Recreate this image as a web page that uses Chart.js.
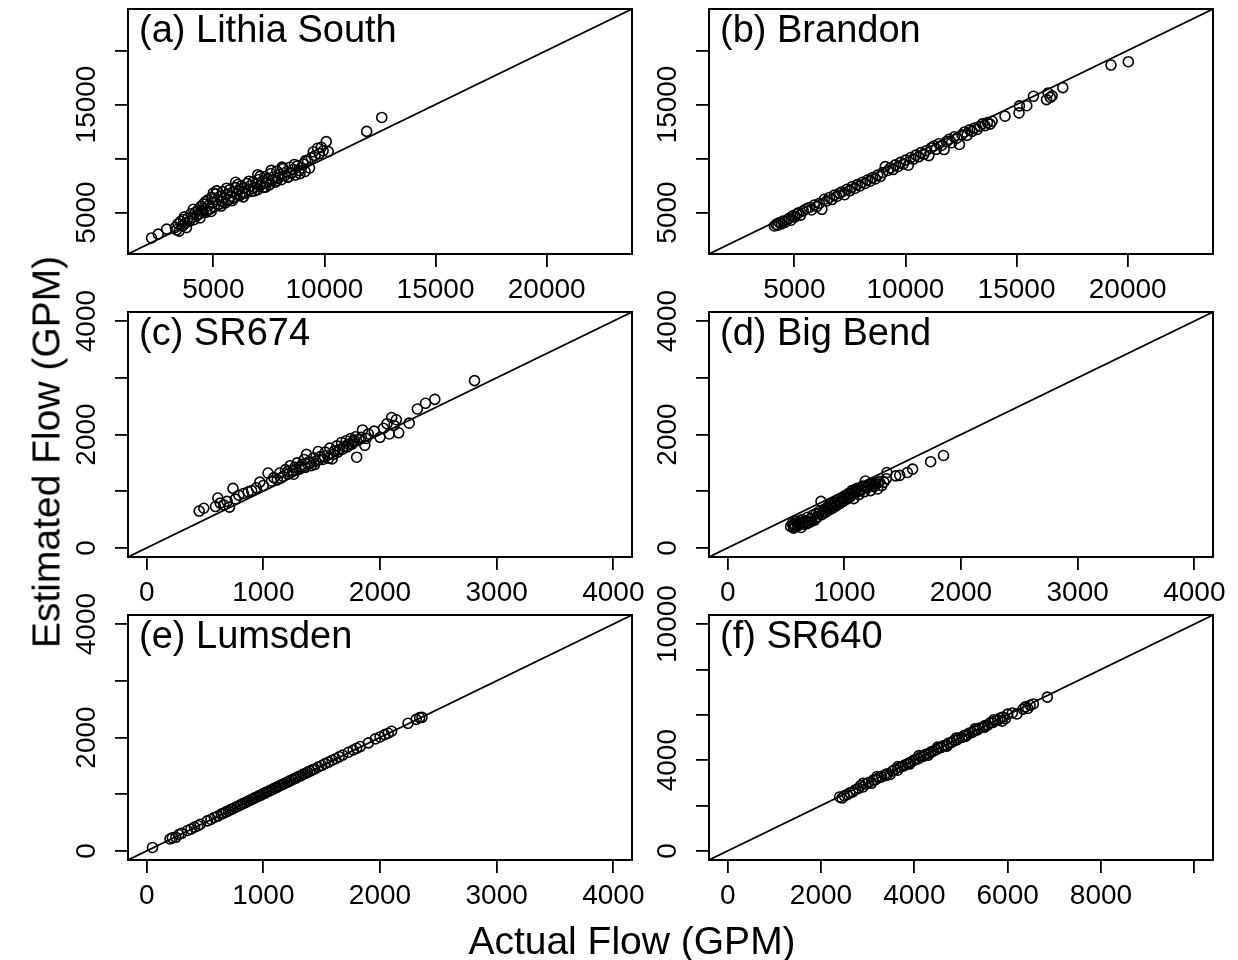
<!DOCTYPE html>
<html>
<head>
<meta charset="utf-8">
<script src="https://cdn.jsdelivr.net/npm/chart.js@4.4.1/dist/chart.umd.min.js"></script>
<style>
  html, body { margin: 0; padding: 0; background: #fff; }
  #fig { position: relative; width: 1238px; height: 960px; overflow: hidden; font-family: 'Liberation Sans', Arial, sans-serif; }
  #fig canvas { position: absolute; }
  .axis-title { position: absolute; font-size: 39px; line-height: 1; color: #000; white-space: nowrap; }
  #xTitle { left: 632px; top: 940px; transform: translate(-50%, -50%); }
  #yTitle { left: 46px; top: 452px; transform: translate(-50%, -50%) rotate(-90deg); }
</style>
</head>
<body>
<div id="fig">
  <canvas id="panelA"></canvas>
  <canvas id="panelB"></canvas>
  <canvas id="panelC"></canvas>
  <canvas id="panelD"></canvas>
  <canvas id="panelE"></canvas>
  <canvas id="panelF"></canvas>
  <div class="axis-title" id="xTitle">Actual Flow (GPM)</div>
  <div class="axis-title" id="yTitle">Estimated Flow (GPM)</div>
</div>
<script>
// Site names (panel labels)
const panelNames = ['(a) Lithia South', '(b) Brandon', '(c) SR674', '(d) Big Bend', '(e) Lumsden', '(f) SR640'];

// Tick positions and which ones carry a label
const ticksBig = [5000, 10000, 15000, 20000];
const xLabelsBig = [5000, 10000, 15000, 20000];
const yLabelsBig = [5000, 15000];
const ticks4k = [0, 1000, 2000, 3000, 4000];
const xLabels4k = [0, 1000, 2000, 3000, 4000];
const yLabels4k = [0, 2000, 4000];
const ticks10k = [0, 2000, 4000, 6000, 8000, 10000];
const xLabels10k = [0, 2000, 4000, 6000, 8000];
const yLabels10k = [0, 4000, 10000];

// Axis ranges (same on x and y, so the 1:1 line runs corner to corner)
const rangeBig = [1160, 23840];
const range4k = [-160, 4160];
const range10k = [-400, 10400];

// (a) Lithia South
const lithiaActual = [2220,2520,2900,3350,3290,3410,3460,3530,3610,3660,3740,3790,3850,3930,3990,4060,4120,4190,4250,4310,4370,4440,4490,4560,4620,4680,4740,4790,4860,4930,4980,5040,5110,5170,5220,5290,5360,5420,5470,5540,5610,5680,5730,5790,5860,5930,5990,6060,6120,6190,6260,6320,6390,6450,6520,6590,6650,6720,6790,6850,6920,6990,7050,7120,7190,7250,7320,7390,7450,7520,7590,7660,7720,7790,7860,7930,7990,8060,8130,8210,8290,8360,8440,8520,8600,8690,8780,8870,8960,9050,9130,9240,9330,9410,9500,9580,9690,9770,9860,9940,10080,10170,11900,12580,3700,4100,4400,4650,4900,5150,5350,5600,5850,6100,6350,6600,6850,7100,7350,7600,7850,8100,8350,8650,8900,9150,5000,6000,7000];
const lithiaEstimated = [2640,3000,3460,3400,3620,3950,3280,4180,3760,4350,4020,3600,4470,4200,4880,4560,4330,4990,4720,5240,4890,5560,5120,5800,5390,5040,6150,5660,5330,6400,5900,5560,6720,6180,5750,6490,6030,6930,6320,5880,6660,6190,7100,6500,6880,6340,7300,6710,7050,6560,7480,6900,7250,6770,7690,7110,7430,6960,7850,7320,7660,7120,8060,7520,7870,7330,8330,7730,8050,7560,8610,7990,8310,7800,8840,8190,8550,8040,9060,8420,8770,8240,9190,8650,8980,8470,9320,8880,9150,9490,8800,9770,9120,10060,10620,10280,10950,10450,11040,10720,11560,10640,12510,13800,4600,5300,4500,6000,5100,7000,5600,7250,6100,7600,6450,7900,7000,8350,7350,8900,7950,9200,8300,9450,8600,9800,6800,7800,8500];

// (b) Brandon
const brandonActual = [4100,4180,4260,4330,4420,4500,4590,4680,4760,4850,4930,5020,5100,5190,5280,5400,5530,5670,5780,5900,6010,6130,6240,6350,6460,6580,6690,6800,6910,7030,7140,7260,7370,7490,7600,7720,7830,7950,8060,8180,8290,8410,8520,8640,8750,8870,8980,9090,9210,9320,9440,9550,9670,9780,9900,10010,10130,10240,10360,10470,10590,10700,10820,10930,11050,11160,11280,11390,11510,11620,11740,11850,11970,12080,12200,12310,12430,12540,12660,12770,12890,13000,13120,13230,13350,13460,13580,13690,13810,13900,14480,15110,15130,15460,15760,16350,16420,16600,16520,17080,19250,20030];
const brandonEstimated = [3750,3900,3820,4060,3950,4210,4100,4330,4460,4290,4690,4580,4860,4970,4760,5150,5330,5470,5240,5690,5560,5850,5300,6230,6080,6390,6200,6610,6490,6780,6920,6650,7150,7010,7380,7230,7580,7460,7800,7690,8010,7900,8230,8110,8470,8340,8700,9250,8890,9130,8980,9410,9260,9640,9490,9850,9380,10090,9950,10310,10160,10540,10380,10720,10270,10980,11160,10850,11370,11210,10830,11560,11780,11460,12010,11880,11300,12200,12460,12140,12650,12520,12830,12690,12990,13210,13040,13330,13180,13450,13920,14220,14870,14890,15760,15450,16070,15800,15650,16560,18650,18960];

// (c) SR674
const sr674Actual = [450,490,590,610,630,660,690,710,740,760,790,830,870,900,940,970,1000,1040,1070,1090,1120,1140,1170,1190,1210,1230,1250,1270,1290,1310,1330,1350,1370,1390,1410,1430,1450,1470,1490,1510,1530,1550,1570,1590,1610,1630,1650,1670,1690,1710,1730,1750,1770,1790,1800,1820,1850,1870,1900,1950,2000,2030,2060,2080,2100,2120,2140,2160,2250,2320,2390,2470,2810,1150,1210,1260,1280,1320,1360,1400,1440,1480,1520,1560,1600,1640,1680,1720,1760,1780,1840,1880];
const sr674Estimated = [650,700,730,880,790,760,820,720,1050,860,930,960,990,1010,1060,1160,1100,1320,1180,1240,1200,1320,1260,1380,1300,1450,1360,1420,1500,1390,1470,1560,1650,1520,1450,1590,1530,1700,1610,1560,1690,1630,1760,1570,1710,1800,1730,1860,1790,1890,1830,1930,1870,1960,1600,1910,2080,1810,2010,2060,1950,2110,2190,2010,2300,2160,2260,2030,2200,2450,2550,2620,2950,1230,1350,1300,1380,1430,1420,1500,1470,1560,1620,1580,1650,1690,1740,1780,1830,1900,1950,1930];

// (d) Big Bend
const bigBendActual = [540,555,565,575,590,600,615,630,640,655,670,685,700,715,730,745,760,775,790,800,810,825,840,855,870,885,900,915,930,945,960,975,990,1005,1020,1035,1050,1065,1080,1095,1110,1125,1140,1155,1170,1180,1195,1210,1225,1240,1255,1270,1285,1300,1320,1340,1360,1365,1440,1475,1540,1585,1740,1850,560,580,610,620,650,680,700,720,760,780,820,850,880,910,940,970,1000,1030,1060,1090,1120,1150,1200,1230,1260,1290];
const bigBendEstimated = [380,430,350,410,470,390,440,360,500,420,470,540,450,520,580,490,610,550,650,820,590,680,630,720,670,760,700,800,740,850,780,880,820,920,860,960,900,1010,870,980,1050,940,1020,1090,990,1180,1060,1120,1010,1150,1080,1130,1040,1170,1100,1160,1220,1330,1270,1280,1330,1390,1520,1630,400,370,420,480,450,430,500,470,530,600,640,690,720,760,800,830,870,910,950,1030,1000,1040,1090,1130,1100,1150];

// (e) Lumsden
const lumsdenActual = [50,200,220,250,275,300,350,380,410,440,460,520,550,580,610,640,660,680,700,720,740,760,780,800,815,830,850,865,880,900,915,930,950,965,980,1000,1015,1030,1050,1065,1080,1100,1115,1130,1150,1165,1180,1200,1215,1230,1250,1265,1280,1300,1320,1340,1360,1380,1400,1420,1440,1470,1500,1530,1560,1590,1620,1650,1680,1730,1770,1800,1830,1900,1960,2000,2040,2070,2100,2240,2310,2340,2360];
const lumsdenEstimated = [60,210,230,240,290,310,360,385,420,445,470,530,555,590,615,650,665,690,705,730,745,770,785,810,820,840,855,875,885,910,920,940,955,975,985,1010,1020,1040,1055,1075,1085,1110,1120,1140,1155,1175,1185,1210,1220,1240,1255,1275,1285,1310,1325,1350,1365,1390,1405,1430,1445,1480,1505,1540,1565,1600,1625,1660,1690,1740,1780,1810,1840,1905,1975,2010,2050,2075,2110,2250,2320,2350,2355];

// (f) SR640
const sr640Actual = [2400,2450,2500,2560,2620,2680,2740,2800,2850,2900,2960,3020,3080,3120,3180,3240,3300,3360,3420,3480,3530,3590,3640,3700,3760,3810,3870,3920,3980,4030,4090,4140,4200,4250,4310,4360,4410,4470,4520,4580,4630,4690,4740,4800,4850,4910,4960,5020,5070,5130,5180,5240,5290,5350,5400,5460,5510,5570,5620,5680,5730,5790,5840,5880,5900,5950,6000,6100,6200,6330,6380,6430,6480,6550,6850,3650,3900,4100,4300,4500,4700,4900,5100,5300,5500,5700,3200,3400,2900];
const sr640Estimated = [2380,2330,2430,2480,2560,2600,2700,2760,2880,2820,2950,3010,2980,3120,3150,3230,3260,3350,3400,3370,3520,3600,3560,3690,3740,3800,3860,3900,3990,4020,4070,4160,4180,4260,4290,4370,4400,4460,4530,4560,4640,4670,4760,4780,4870,4890,4980,5000,5090,5110,5200,5220,5300,5330,5420,5450,5530,5540,5640,5660,5730,5770,5860,5720,5900,5830,6030,6080,6040,6250,6350,6280,6420,6480,6780,3720,3830,4200,4220,4580,4620,4980,5050,5380,5450,5780,3280,3330,2980];

// Layout of each panel
const FONT = "'Liberation Sans', Arial, sans-serif";
const TICK_SIZE = 28, LABEL_SIZE = 38;
const BOX_W = 504, BOX_H = 245;
const Y_AXIS_W = 100, PAD_TOP = 30, PAD_RIGHT = 34, X_AXIS_H = 60;
const TICK_LEN = 13, Y_LABEL_OFFSET = 41;

function textWidth(text, size) {
  const ctx = document.createElement('canvas').getContext('2d');
  ctx.font = size + 'px ' + FONT;
  return ctx.measureText(text).width;
}

// draws the full box and the panel label inside it
const panelFrame = {
  id: 'panelFrame',
  afterDatasetsDraw(chart, args, opts) {
    const { ctx, chartArea: a } = chart;
    ctx.save();
    ctx.strokeStyle = '#000';
    ctx.lineWidth = 2;
    ctx.strokeRect(a.left, a.top, a.right - a.left, a.bottom - a.top);
    ctx.fillStyle = '#000';
    ctx.font = LABEL_SIZE + 'px ' + FONT;
    ctx.textBaseline = 'alphabetic';
    ctx.textAlign = 'left';
    ctx.fillText(opts.label, a.left + 11, a.top + 33);
    ctx.restore();
  }
};

function axisOptions(axis, range, ticks, labels) {
  const isY = axis === 'y';
  const widest = Math.max(...labels.map(v => textWidth(String(v), TICK_SIZE)));
  return {
    type: 'linear',
    position: isY ? 'left' : 'bottom',
    min: range[0],
    max: range[1],
    afterBuildTicks: s => { s.ticks = ticks.map(v => ({ value: v })); },
    afterFit: s => { if (isY) s.width = Y_AXIS_W; else s.height = X_AXIS_H; },
    grid: { drawOnChartArea: false, drawTicks: true, tickLength: TICK_LEN, color: '#000', lineWidth: 1.8 },
    border: { display: false },
    ticks: {
      autoSkip: false,
      color: '#000',
      font: { family: FONT, size: TICK_SIZE },
      minRotation: isY ? 90 : 0,
      maxRotation: isY ? 90 : 0,
      crossAlign: isY ? 'center' : 'near',
      padding: isY ? Y_LABEL_OFFSET - TICK_LEN - widest / 2 : 6,
      callback: v => labels.includes(v) ? String(v) : ''
    }
  };
}

function makePanel(id, boxLeft, boxTop, p) {
  const canvas = document.getElementById(id);
  canvas.width = Y_AXIS_W + BOX_W + PAD_RIGHT;
  canvas.height = PAD_TOP + BOX_H + X_AXIS_H;
  canvas.style.left = (boxLeft - Y_AXIS_W) + 'px';
  canvas.style.top = (boxTop - PAD_TOP) + 'px';

  return new Chart(canvas, {
    type: 'scatter',
    data: {
      datasets: [{
        type: 'line',
        data: [{ x: p.range[0], y: p.range[0] }, { x: p.range[1], y: p.range[1] }],
        borderColor: '#000',
        borderWidth: 1.7,
        pointRadius: 0,
        fill: false
      }, {
        data: p.actual.map((v, i) => ({ x: v, y: p.estimated[i] })),
        pointStyle: 'circle',
        pointRadius: 5,
        borderWidth: 1.6,
        borderColor: '#000',
        backgroundColor: 'rgba(0,0,0,0)'
      }]
    },
    options: {
      responsive: false,
      animation: false,
      events: [],
      layout: { padding: { left: 0, top: PAD_TOP, right: PAD_RIGHT, bottom: 0 } },
      plugins: {
        legend: { display: false },
        tooltip: { enabled: false },
        panelFrame: { label: p.label }
      },
      scales: {
        x: axisOptions('x', p.range, p.ticks, p.xLabels),
        y: axisOptions('y', p.range, p.ticks, p.yLabels)
      }
    },
    plugins: [panelFrame]
  });
}

makePanel('panelA', 128, 9, { label: panelNames[0], range: rangeBig, ticks: ticksBig, xLabels: xLabelsBig, yLabels: yLabelsBig, actual: lithiaActual, estimated: lithiaEstimated });
makePanel('panelB', 709, 9, { label: panelNames[1], range: rangeBig, ticks: ticksBig, xLabels: xLabelsBig, yLabels: yLabelsBig, actual: brandonActual, estimated: brandonEstimated });
makePanel('panelC', 128, 312, { label: panelNames[2], range: range4k, ticks: ticks4k, xLabels: xLabels4k, yLabels: yLabels4k, actual: sr674Actual, estimated: sr674Estimated });
makePanel('panelD', 709, 312, { label: panelNames[3], range: range4k, ticks: ticks4k, xLabels: xLabels4k, yLabels: yLabels4k, actual: bigBendActual, estimated: bigBendEstimated });
makePanel('panelE', 128, 615, { label: panelNames[4], range: range4k, ticks: ticks4k, xLabels: xLabels4k, yLabels: yLabels4k, actual: lumsdenActual, estimated: lumsdenEstimated });
makePanel('panelF', 709, 615, { label: panelNames[5], range: range10k, ticks: ticks10k, xLabels: xLabels10k, yLabels: yLabels10k, actual: sr640Actual, estimated: sr640Estimated });
</script>
</body>
</html>
